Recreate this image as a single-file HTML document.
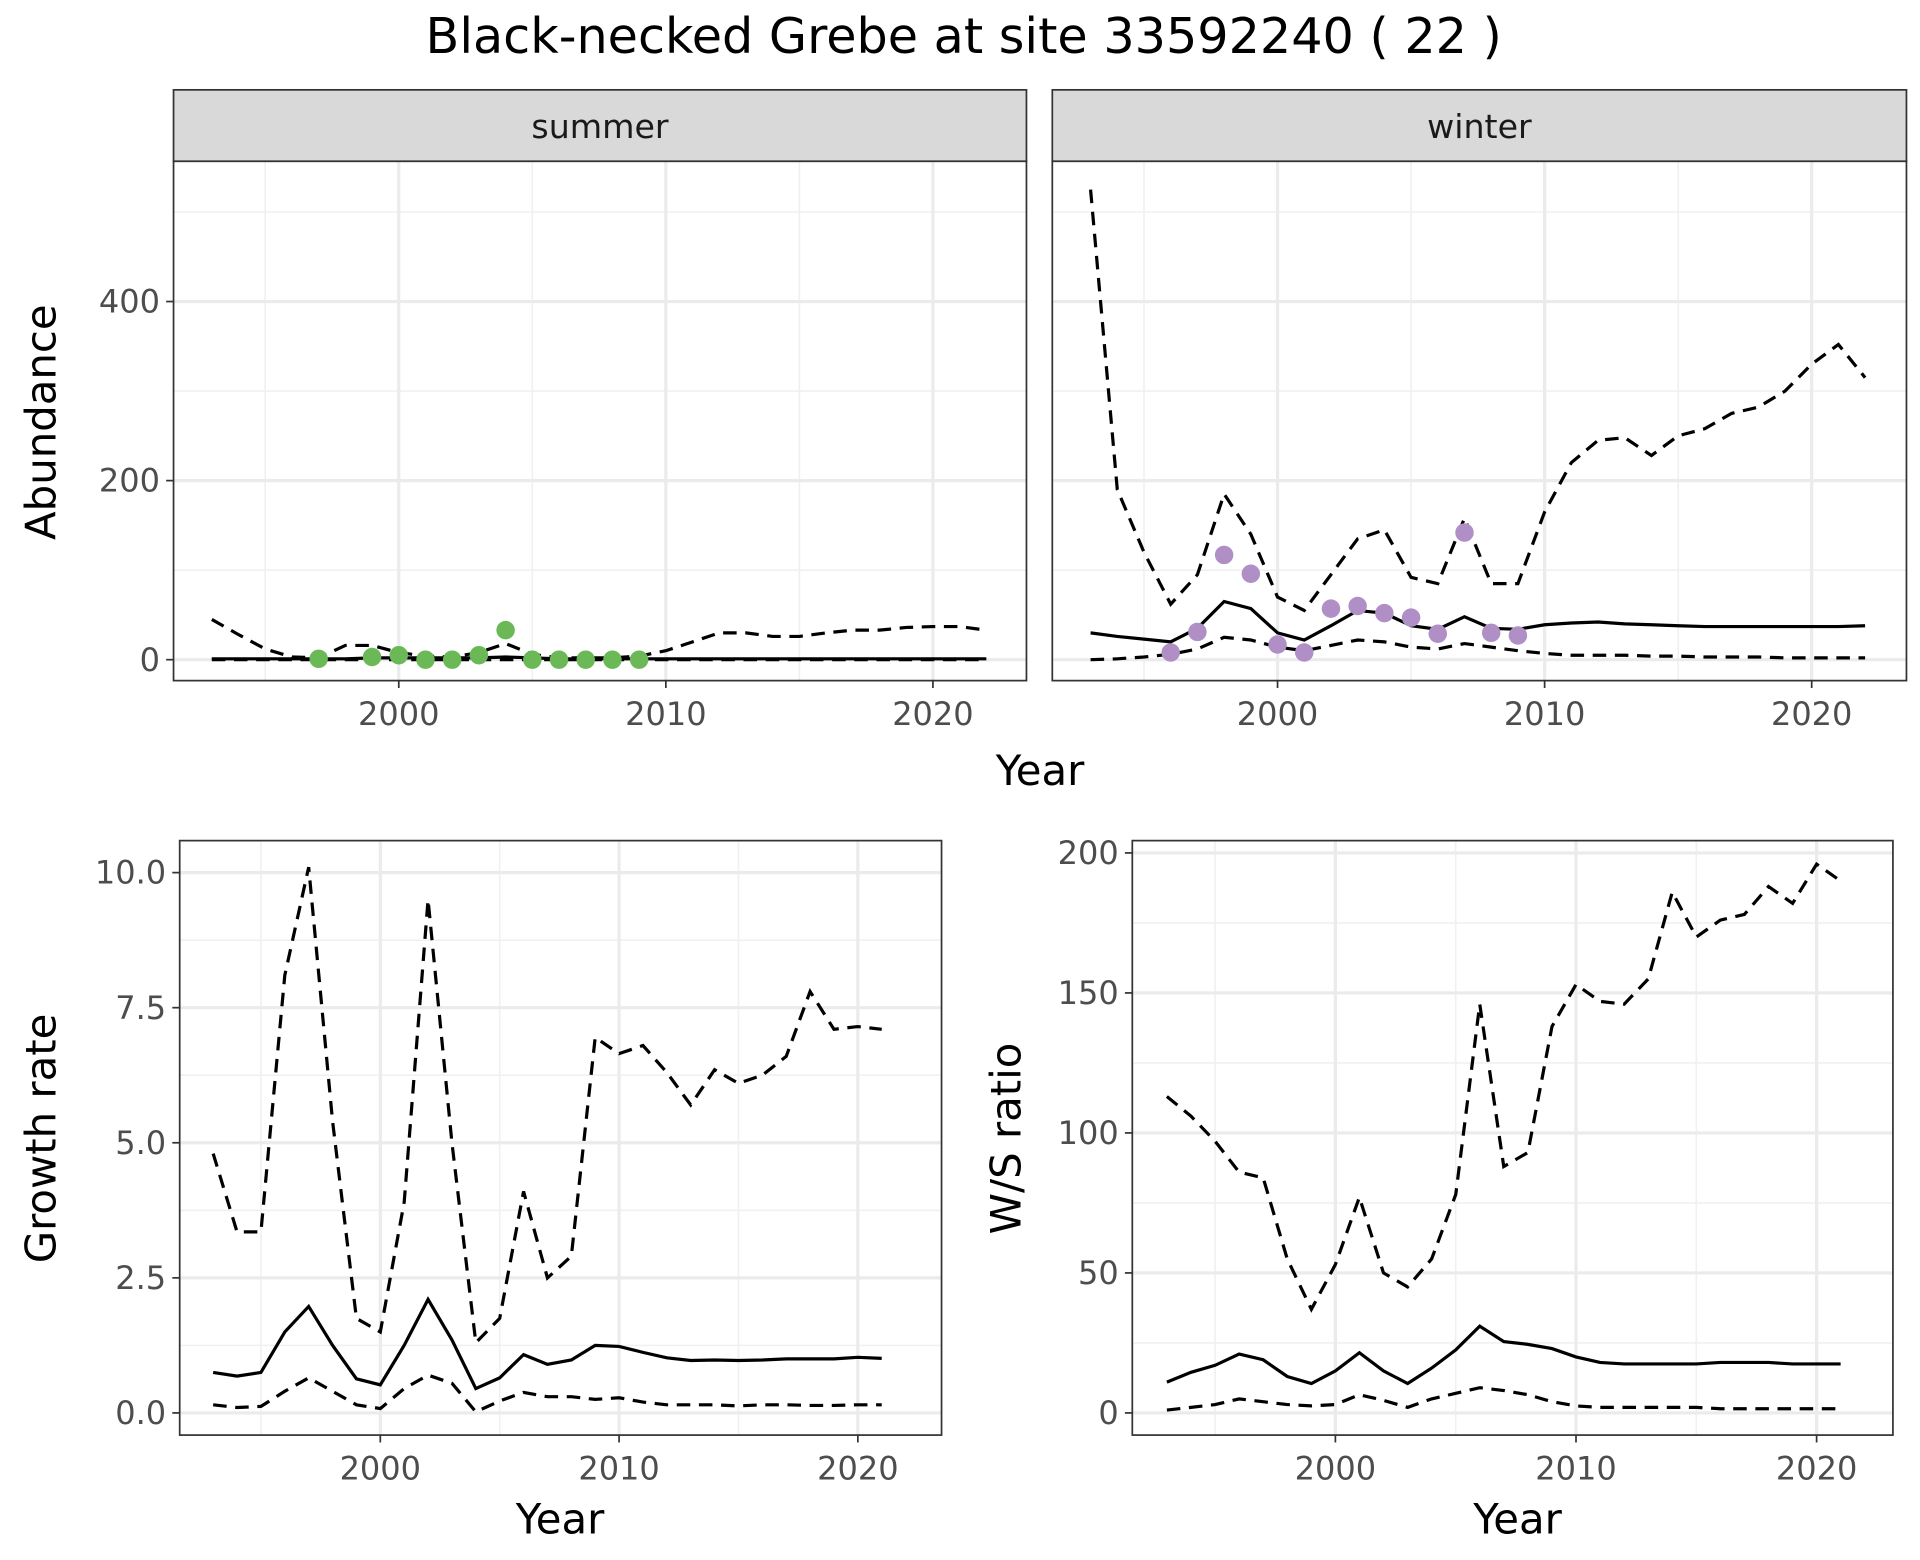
<!DOCTYPE html>
<html><head><meta charset="utf-8"><style>
html,body{margin:0;padding:0;background:#fff;}
svg{display:block;font-family:"DejaVu Sans","Liberation Sans",sans-serif;}
</style></head><body>
<svg id="chart" width="1920" height="1560" viewBox="0 0 1560 1267.5" preserveAspectRatio="none" xmlns="http://www.w3.org/2000/svg">
<text x="783" y="43" font-size="40" text-anchor="middle" fill="#000">Black-necked Grebe at site 33592240 ( 22 )</text>
</svg>
<script>
const yearsA = [1993,1994,1995,1996,1997,1998,1999,2000,2001,2002,2003,2004,2005,2006,2007,2008,2009,2010,2011,2012,2013,2014,2015,2016,2017,2018,2019,2020,2021,2022];
const summerUpper = [45,28,12,3,2,16,16,8,4,3,8,18,6,2,2,2,4,10,20,30,30,26,26,30,33,33,36,37,37,33];
const summerMid = [1,1,1,1,1,1,2,2,2,2,2,3,2,1,1,1,1,1,1,1,1,1,1,1,1,1,1,1,1,1];
const summerLower = [0,0,0,0,0,0,0,0,0,0,0,0,0,0,0,0,0,0,0,0,0,0,0,0,0,0,0,0,0,0];
const summerPtYears = [1997,1999,2000,2001,2002,2003,2004,2005,2006,2007,2008,2009];
const summerPts = [1,3,5,0,0,5,33,0,0,0,0,0];
const winterUpper = [525,190,120,62,95,185,140,70,55,95,135,145,92,85,158,85,85,165,220,245,248,228,250,258,275,282,300,330,352,315];
const winterMid = [30,26,23,20,35,65,57,30,22,38,55,52,38,34,48,35,34,39,41,42,40,39,38,37,37,37,37,37,37,38];
const winterLower = [0,1,3,6,12,25,22,14,10,16,22,20,14,12,18,14,10,7,5,5,5,4,4,3,3,3,2,2,2,2];
const winterPtYears = [1996,1997,1998,1999,2000,2001,2002,2003,2004,2005,2006,2007,2008,2009];
const winterPts = [8,31,117,96,17,8,57,60,52,47,29,142,30,27];
const yearsB = [1993,1994,1995,1996,1997,1998,1999,2000,2001,2002,2003,2004,2005,2006,2007,2008,2009,2010,2011,2012,2013,2014,2015,2016,2017,2018,2019,2020,2021];
const growthUpper = [4.8,3.35,3.35,8.1,10.1,5.4,1.75,1.5,3.9,9.5,5.0,1.3,1.75,4.1,2.5,2.9,6.95,6.65,6.8,6.3,5.7,6.35,6.1,6.25,6.6,7.8,7.1,7.15,7.1];
const growthMid = [0.75,0.68,0.75,1.5,1.97,1.25,0.63,0.52,1.25,2.1,1.35,0.45,0.65,1.08,0.9,0.98,1.25,1.23,1.12,1.02,0.97,0.98,0.97,0.98,1.0,1.0,1.0,1.03,1.01];
const growthLower = [0.15,0.1,0.12,0.4,0.65,0.4,0.15,0.08,0.45,0.7,0.55,0.02,0.22,0.38,0.3,0.3,0.25,0.28,0.2,0.15,0.15,0.15,0.13,0.15,0.15,0.14,0.14,0.15,0.15];
const ratioUpper = [113,106,97,86,84,55,37,53,77,50,45,55,78,146,88,93,138,153,147,146,155,186,170,176,178,188,182,196,190];
const ratioMid = [11,14.5,17,21,19,13,10.5,15,21.5,15,10.5,16,22.5,31,25.5,24.5,23,20,18,17.5,17.5,17.5,17.5,18,18,18,17.5,17.5,17.5];
const ratioLower = [1,2,3,5,4,3,2.5,3,6.5,4.5,2,5,7,9,8,6.5,4,2.5,2,2,2,2,2,1.5,1.5,1.5,1.5,1.5,1.5];
const xTicks = [2000,2010,2020];
const xMinor = [1995,2005,2015];
const abTicks = [0,200,400];
const abMinor = [100,300,500];
const grTicks = [0,2.5,5,7.5,10];
const grLabels = ["0.0","2.5","5.0","7.5","10.0"];
const grMinor = [1.25,3.75,6.25,8.75];
const rtTicks = [0,50,100,150,200];
const rtMinor = [25,75,125,175];

const svg = document.getElementById('chart');
const NS = 'http://www.w3.org/2000/svg';
function mk(tag, attrs, parent){
  const e = document.createElementNS(NS, tag);
  for (const k in attrs) e.setAttribute(k, attrs[k]);
  (parent||svg).appendChild(e);
  return e;
}
function panel(p){
  const g = mk('g', {});
  
  
  const X = v => p.x0 + (v - p.xv0) * p.xs;
  const Y = v => p.y0 - (v - p.yv0) * p.ys;
  const gridMinor = mk('g', {}, g);
  
  
  p.yMinor.forEach(v => { const yy = Y(v); if (yy > p.top && yy < p.bottom) mk('line', {x1:p.left,x2:p.right,y1:yy,y2:yy,stroke:'#f0f0f0','stroke-width':1.3}, gridMinor); });
  xMinor.forEach(v => { const xx = X(v); mk('line', {x1:xx,x2:xx,y1:p.top,y2:p.bottom,stroke:'#f0f0f0','stroke-width':1.3}, gridMinor); });
  const gridMajor = mk('g', {}, g);
  
  
  p.yTicks.forEach(v => { const yy = Y(v); mk('line', {x1:p.left,x2:p.right,y1:yy,y2:yy,stroke:'#ebebeb','stroke-width':2.6}, gridMajor); });
  xTicks.forEach(v => { const xx = X(v); mk('line', {x1:xx,x2:xx,y1:p.top,y2:p.bottom,stroke:'#ebebeb','stroke-width':2.6}, gridMajor); });
  p.series.forEach(s => {
    const d = s.vals.map((v,i) => (i? 'L':'M') + X(s.xs[i]).toFixed(1) + ',' + Y(v).toFixed(1)).join(' ');
    const path = mk('path', {d:d, fill:'none', stroke:'#000', 'stroke-width':2.6, 'stroke-dasharray': s.dash ? '11,7' : 'none'}, g);
    
    
  });
  if (p.pts) {
    p.pts.vals.forEach((v,i) => {
      const c = mk('circle', {cx:X(p.pts.xs[i]), cy:Y(v), r:7.5, fill:p.pts.color}, g);
      
      
    });
  }
  const border = mk('rect', {x:p.left,y:p.top,width:p.right-p.left,height:p.bottom-p.top,fill:'none',stroke:'#333','stroke-width':1.4}, g);
  
  
  if (p.showY) {
    p.yTicks.forEach((v,i) => {
      const yy = Y(v);
      mk('line', {x1:p.left-6,x2:p.left,y1:yy,y2:yy,stroke:'#333','stroke-width':1.4}, g);
      const t = mk('text', {x:p.left-11, y:yy+9, 'font-size':26, 'text-anchor':'end', fill:'#4d4d4d'}, g);
      t.textContent = p.yLabels ? p.yLabels[i] : String(v);
      
      
    });
  }
  xTicks.forEach(v => {
    const xx = X(v);
    mk('line', {x1:xx,x2:xx,y1:p.bottom,y2:p.bottom+6,stroke:'#333','stroke-width':1.4}, g);
    const t = mk('text', {x:xx, y:p.bottom+36, 'font-size':26, 'text-anchor':'middle', fill:'#4d4d4d'}, g);
    t.textContent = String(v);
    
    
  });
  if (p.strip) {
    const r = mk('rect', {x:p.left,y:73,width:p.right-p.left,height:58,fill:'#d9d9d9',stroke:'#333','stroke-width':1.4}, g);
    
    
    const t = mk('text', {x:(p.left+p.right)/2, y:112, 'font-size':27, 'text-anchor':'middle', fill:'#1a1a1a'}, g);
    t.textContent = p.strip;
    
    
  }
}
panel({name:'summer-panel', left:141,right:834,top:131,bottom:553, x0:324,xv0:2000,xs:21.7, y0:536,yv0:0,ys:0.7275, yTicks:abTicks,yMinor:abMinor, showY:true, strip:'summer',
  series:[{name:'summer-upper-line',xs:yearsA,vals:summerUpper,dash:true},{name:'summer-lower-line',xs:yearsA,vals:summerLower,dash:true},{name:'summer-mean-line',xs:yearsA,vals:summerMid,dash:false}],
  pts:{xs:summerPtYears,vals:summerPts,color:'#6ab856'}});
panel({name:'winter-panel', left:855,right:1549,top:131,bottom:553, x0:1038,xv0:2000,xs:21.7, y0:536,yv0:0,ys:0.7275, yTicks:abTicks,yMinor:abMinor, showY:false, strip:'winter',
  series:[{name:'winter-upper-line',xs:yearsA,vals:winterUpper,dash:true},{name:'winter-lower-line',xs:yearsA,vals:winterLower,dash:true},{name:'winter-mean-line',xs:yearsA,vals:winterMid,dash:false}],
  pts:{xs:winterPtYears,vals:winterPts,color:'#b08fc7'}});
panel({name:'growth-panel', left:146,right:765,top:683,bottom:1166, x0:309,xv0:2000,xs:19.4, y0:1148,yv0:0,ys:43.9, yTicks:grTicks,yLabels:grLabels,yMinor:grMinor, showY:true,
  series:[{name:'growth-upper-line',xs:yearsB,vals:growthUpper,dash:true},{name:'growth-lower-line',xs:yearsB,vals:growthLower,dash:true},{name:'growth-mean-line',xs:yearsB,vals:growthMid,dash:false}]});
panel({name:'ratio-panel', left:920,right:1538,top:683,bottom:1166, x0:1085,xv0:2000,xs:19.55, y0:1148,yv0:0,ys:2.275, yTicks:rtTicks,yMinor:rtMinor, showY:true,
  series:[{name:'ratio-upper-line',xs:yearsB,vals:ratioUpper,dash:true},{name:'ratio-lower-line',xs:yearsB,vals:ratioLower,dash:true},{name:'ratio-mean-line',xs:yearsB,vals:ratioMid,dash:false}]});
function title(txt, x, y, rot, name){
  const t = mk('text', {x:x, y:y, 'font-size':34, 'text-anchor':'middle', fill:'#000'});
  if (rot) t.setAttribute('transform', 'rotate(-90 ' + x + ' ' + y + ')');
  t.textContent = txt;
  
  
}
title('Year', 845, 638, false, 'x-axis-title-top');
title('Abundance', 45, 343, true, 'y-axis-title-abundance');
title('Year', 455, 1246, false, 'x-axis-title-growth');
title('Growth rate', 45, 925, true, 'y-axis-title-growth');
title('Year', 1233, 1246, false, 'x-axis-title-ratio');
title('W/S ratio', 829, 925, true, 'y-axis-title-ratio');
</script>
</body></html>
